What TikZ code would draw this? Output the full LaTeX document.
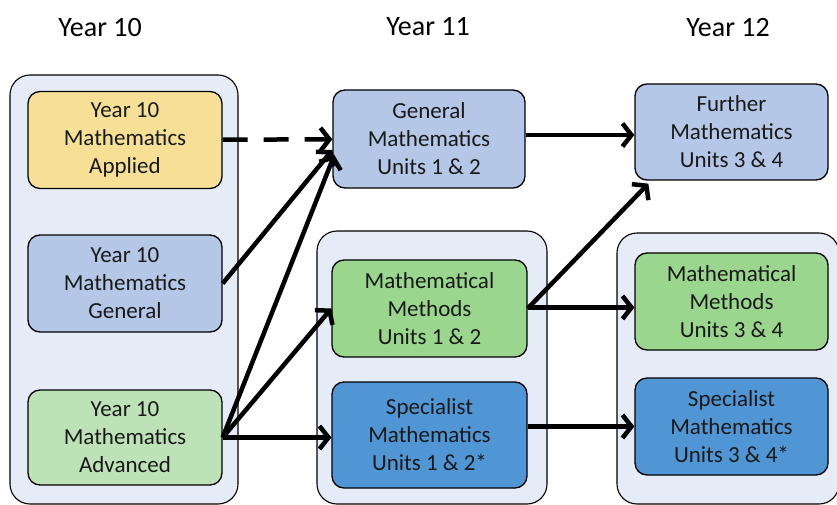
\documentclass[tikz,border=0pt]{standalone}
\usepackage{fontspec}
\setmainfont{Carlito}
\usetikzlibrary{arrows.meta}
\definecolor{panelfill}{RGB}{230,236,247}
\definecolor{applied}{RGB}{246,224,150}
\definecolor{general}{RGB}{181,199,231}
\definecolor{advanced}{RGB}{190,226,184}
\definecolor{methods}{RGB}{154,214,141}
\definecolor{specialist}{RGB}{80,150,212}

\begin{document}
\begin{tikzpicture}[x=1pt, y=-1pt]
  \tikzstyle{course} = [draw, rounded corners=12pt, align=center, line width=1.3pt, minimum width=194pt, minimum height=97pt, inner sep=2pt, text=black!90, font=\fontsize{23}{28}\selectfont]
  \tikzstyle{panel} = [draw, rounded corners=20pt, fill=panelfill, line width=1.1pt]
  \tikzstyle{yearlabel} = [font=\fontsize{28}{30}\selectfont]
  \tikzstyle{link} = [-{Straight Barb[length=9pt, width=23pt]}, line width=4.5pt]
  \useasboundingbox (0,0) rectangle (837,505);
  % year panels
  \draw[panel] (10,75) rectangle (238,504);
  \draw[panel] (317,231) rectangle (547,504);
  \draw[panel] (617,233) rectangle (839,504);
  % headings
  \node[yearlabel] (h10) at (100,28) {Year 10};
  \node[yearlabel] (h11) at (428,27) {Year 11};
  \node[yearlabel] (h12) at (728,28) {Year 12};
  % year 10
  \node[course, fill=applied] (app) at (125,140) {Year 10\\Mathematics\\Applied};
  \node[course, fill=general] (gen10) at (125,283.5) {Year 10\\Mathematics\\General};
  \node[course, fill=advanced, minimum height=95pt] (adv) at (125,437.5) {Year 10\\Mathematics\\Advanced};
  % year 11
  \node[course, fill=general, minimum width=192pt, minimum height=98pt] (gm11) at (429,139) {General\\Mathematics\\Units 1 \& 2};
  \node[course, fill=methods, minimum width=195pt] (mm11) at (429.5,308.5) {Mathematical\\Methods\\Units 1 \& 2};
  \node[course, fill=specialist, minimum width=195pt, minimum height=106pt] (sm11) at (429.5,435) {Specialist\\Mathematics\\Units 1 \& 2*};
  % year 12
  \node[course, fill=general, minimum width=193pt, minimum height=96pt] (fm12) at (731.5,132) {Further\\Mathematics\\Units 3 \& 4};
  \node[course, fill=methods, minimum width=193pt] (mm12) at (731.5,301.5) {Mathematical\\Methods\\Units 3 \& 4};
  \node[course, fill=specialist, minimum width=193pt] (sm12) at (731.5,426.5) {Specialist\\Mathematics\\Units 3 \& 4*};
  % pathways
  \draw[link, dash pattern=on 25pt off 16pt] (app) -- (gm11);
  \draw[link] (gen10.east) -- ([yshift=-11pt]gm11.west);
  \draw[link] (adv.east) -- ([xshift=2pt, yshift=-16pt]gm11.west);
  \draw[link] (adv.east) -- (mm11.west);
  \draw[link] (adv.east) -- (adv.east -| sm11.west);
  \draw[link] ([yshift=4pt]gm11.east) -- ([yshift=4pt]gm11.east -| fm12.west);
  \draw[link] (mm11.east) -- ([xshift=14pt, yshift=-3pt]fm12.south west);
  \draw[link] ([yshift=1pt]mm11.east) -- ([yshift=1pt]mm11.east -| mm12.west);
  \draw[link] (sm12.west -| sm11.east) -- (sm12.west);
\end{tikzpicture}
\end{document}
